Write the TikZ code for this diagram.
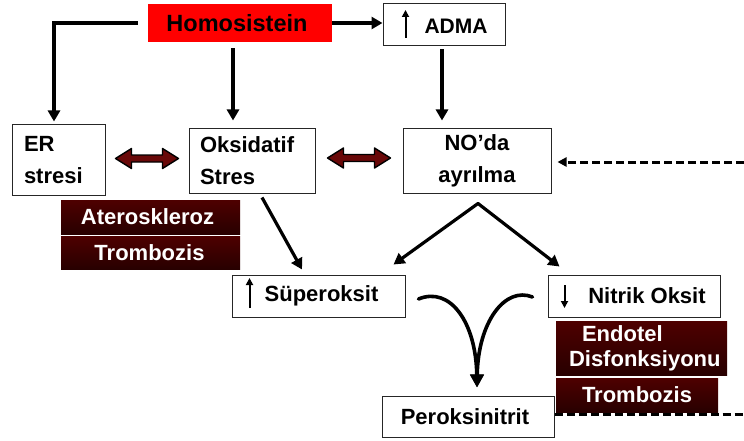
\documentclass[tikz,border=0pt]{standalone}
\usepackage{fontspec}
\setmainfont{Liberation Sans}
\usetikzlibrary{arrows.meta,calc}
\definecolor{hred}{RGB}{255,0,0}
\definecolor{dredA}{RGB}{78,0,0}
\definecolor{dredB}{RGB}{128,0,0}
\definecolor{dredC}{RGB}{40,0,0}
\definecolor{blockred}{RGB}{105,8,8}
\newcommand\dblarr[1]{%
  \draw[blockarr] ($(#1)+(-31.5,0)$) -- ++(16,-10) -- ++(0,6.5) -- ++(31,0) -- ++(0,-6.5)
    -- ++(16,10) -- ++(-16,10) -- ++(0,-6.5) -- ++(-31,0) -- ++(0,6.5) -- cycle;}
\begin{document}
\begin{tikzpicture}[x=1pt,y=-1pt,
  txt/.style={font=\bfseries\fontsize{22}{32}\selectfont},
  box/.style={txt, draw=black!85, line width=1pt, inner sep=0pt, fill=white},
  redbox/.style={txt, inner sep=0pt, text=white, top color=dredA, middle color=dredB, bottom color=dredC},
  arr/.style={line width=3.2pt, -{Triangle[length=11pt,width=12pt]}},
  darr/.style={line width=3.2pt, {Triangle[length=11pt,width=12pt]}-{Triangle[length=11pt,width=12pt]}, line join=round},
  curvearr/.style={line width=3.6pt, line cap=round, -{Triangle[length=13pt,width=13pt]}},
  smallarr/.style={line width=2pt, -{Triangle[length=7pt,width=7pt]}},
  dashline/.style={line width=3pt, dash pattern=on 8pt off 4pt},
  blockarr/.style={draw=black, line width=1.4pt, fill=blockred, line join=round}]
\useasboundingbox (0,0) rectangle (744,441);
\fill[white] (0,0) rectangle (744,441);

% top row
\node[fill=hred, inner sep=0pt, minimum width=184pt, minimum height=38pt,
      font=\bfseries\fontsize{23.5}{28}\selectfont] (homo) at (240,23) {Homosistein\hspace*{6pt}};
\node[box, minimum width=122pt, minimum height=42pt] (adma) at (444,25) {};
\node[font=\bfseries\fontsize{21}{25}\selectfont, inner sep=0pt] (admat) at (456,26) {ADMA};
\draw[smallarr] ($(adma.west)+(23,13)$) -- ($(adma.west)+(23,-15)$);

% second row
\node[box, minimum width=93pt, minimum height=70pt, text width=69pt, inner xsep=12pt, align=left] (er) at (58.5,160) {ER\\stresi};
\node[box, minimum width=126pt, minimum height=64pt, text width=104pt, inner xsep=11pt, align=left] (oks) at (252,161) {Oksidatif\\Stres};
\node[box, minimum width=148pt, minimum height=64pt, align=center] (no) at (477,161) {NO’da\\ayrılma};

\node[redbox, minimum width=179pt, minimum height=34pt] (ater) at (150.5,217) {Ateroskleroz\hspace*{6pt}};
\node[redbox, minimum width=179pt, minimum height=33pt] (trom1) at (150.5,252.5) {Trombozis\hspace*{2pt}};

% third row
\node[box, minimum width=173pt, minimum height=42pt] (sup) at (318.5,296) {\hspace*{6pt}Süperoksit};
\draw[smallarr] ($(sup.west)+(18,12)$) -- ($(sup.west)+(18,-18)$);
\node[box, minimum width=172pt, minimum height=42pt] (nit) at (634,296) {\hspace*{26pt}Nitrik Oksit};
\draw[smallarr] ($(nit.west)+(17,-11)$) -- ($(nit.west)+(17,12)$);

\node[redbox, minimum width=171pt, minimum height=54pt, text width=145pt, inner xsep=13pt, align=left,
      font=\bfseries\fontsize{22}{25}\selectfont] (endo) at (641.5,348) {\hspace*{13pt}Endotel\\Disfonksiyonu};
\node[redbox, minimum width=162pt, minimum height=34pt] (trom2) at (637,395) {Trombozis};

\node[box, minimum width=172pt, minimum height=41pt] (perox) at (468,416.5) {Peroksinitrit\hspace*{6pt}};

% connectors
\draw[arr] (homo.east) -- (homo.east -| adma.west);
\draw[arr] ([xshift=-10pt]homo.west) -| ([xshift=-4.5pt,yshift=3pt]er.north);
\draw[arr] ([xshift=-7pt,yshift=-6pt]homo.south) -- ([xshift=-7pt,yshift=8pt]homo.south |- oks.north);
\draw[arr] ([xshift=-2pt,yshift=-3pt]adma.south) -- ([xshift=-2pt,yshift=8pt]adma.south |- no.north);

\dblarr{$($(er.east)!0.5!(oks.west)$)+(0,-2)$}
\dblarr{$($(oks.east)!0.5!(no.west)$)+(0,-3)$}

\draw[arr] ([xshift=10pt,yshift=-4pt]oks.south) -- ([xshift=-16.5pt,yshift=5pt]sup.north);
\coordinate (peak) at ([xshift=1pt,yshift=-10pt]no.south);
\draw[darr] ([xshift=-12pt,yshift=10pt]sup.north east) -- (peak) -- ([xshift=12pt,yshift=8pt]nit.north west);

\coordinate (meet) at ([xshift=9pt,yshift=8pt]perox.north);
\draw[curvearr] ([xshift=13pt,yshift=-3pt]sup.east) .. controls (450,286) and (476,322) .. (meet);
\draw[curvearr] ([xshift=-15pt,yshift=-1pt]nit.west) .. controls (505,286) and (478,322) .. (meet);

\coordinate (edge1) at (744,162);
\draw[dashline, -{Triangle[length=9pt,width=9pt]}] (edge1) -- ([xshift=6pt]no.east |- edge1);
\coordinate (edge2) at (744,414);
\draw[dashline] ([yshift=2.5pt]perox.east) -- (edge2);
\end{tikzpicture}
\end{document}
